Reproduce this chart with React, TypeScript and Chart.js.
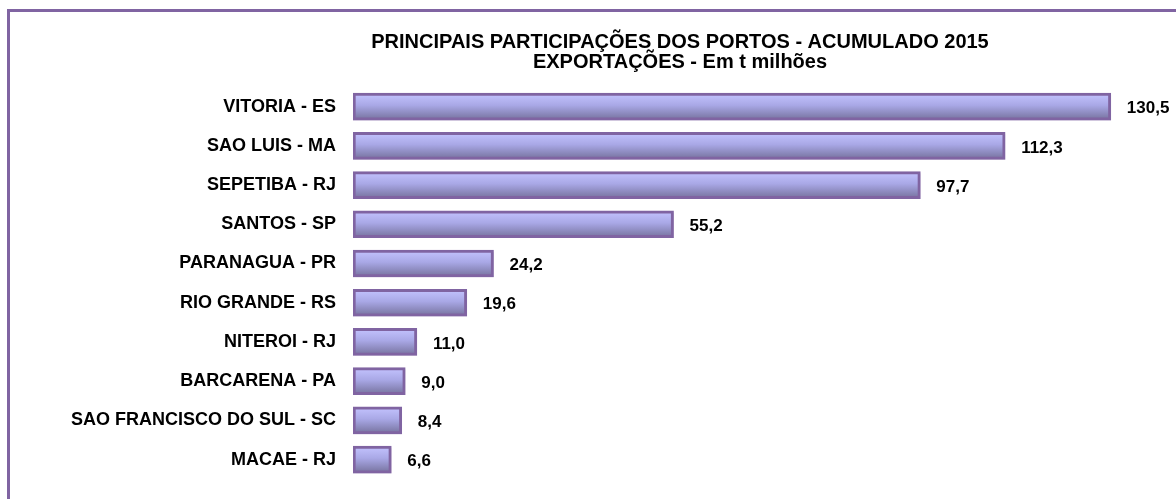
import React, { useEffect, useRef } from "react";
import { Chart, registerables } from "chart.js";

Chart.register(...registerables);

const categories = [
  "VITORIA - ES",
  "SAO LUIS - MA",
  "SEPETIBA - RJ",
  "SANTOS - SP",
  "PARANAGUA - PR",
  "RIO GRANDE - RS",
  "NITEROI - RJ",
  "BARCARENA - PA",
  "SAO FRANCISCO DO SUL - SC",
  "MACAE - RJ",
];
const values = [130.5, 112.3, 97.7, 55.2, 24.2, 19.6, 11.0, 9.0, 8.4, 6.6];
const titleLines = [
  "PRINCIPAIS PARTICIPAÇÕES DOS PORTOS - ACUMULADO 2015",
  "EXPORTAÇÕES - Em t milhões",
];

const FONT = "'Liberation Sans', Arial, sans-serif";
const PURPLE = "#8064A2";
const BAR_H = 27;

const framePlugin = {
  id: "frame",
  beforeDraw(chart: any) {
    const ctx = chart.ctx;
    ctx.save();
    ctx.fillStyle = PURPLE;
    ctx.fillRect(7, 9, chart.width - 7, 3);
    ctx.fillRect(7, 9, 3, chart.height - 9);
    ctx.restore();
  },
};

const titlePlugin = {
  id: "twoLineTitle",
  afterDraw(chart: any) {
    const ctx = chart.ctx;
    ctx.save();
    ctx.fillStyle = "#000";
    ctx.font = `bold 20px ${FONT}`;
    ctx.textAlign = "center";
    ctx.textBaseline = "middle";
    ctx.fillText(titleLines[0], 680, 42);
    ctx.fillText(titleLines[1], 680, 62);
    ctx.restore();
  },
};

const shadowPlugin = {
  id: "barShadow",
  beforeDatasetsDraw(chart: any) {
    const ctx = chart.ctx;
    ctx.save();
    ctx.shadowColor = "rgba(128,100,162,0.3)";
    ctx.shadowOffsetX = 0;
    ctx.shadowOffsetY = 2;
    ctx.shadowBlur = 1;
  },
  afterDatasetsDraw(chart: any) {
    chart.ctx.restore();
  },
};

const valueLabelPlugin = {
  id: "valueLabels",
  afterDatasetsDraw(chart: any) {
    const ctx = chart.ctx;
    const meta = chart.getDatasetMeta(0);
    ctx.save();
    ctx.fillStyle = "#000";
    ctx.font = `bold 17px ${FONT}`;
    ctx.textAlign = "left";
    ctx.textBaseline = "middle";
    meta.data.forEach((el: any, i: number) => {
      const txt = values[i].toFixed(1).replace(".", ",");
      ctx.fillText(txt, el.x + 16, el.y + 2);
    });
    ctx.restore();
  },
};

export default function App() {
  const ref = useRef<HTMLCanvasElement | null>(null);

  useEffect(() => {
    if (!ref.current) return;
    const chart = new Chart(ref.current, {
      type: "bar",
      data: {
        labels: categories,
        datasets: [
          {
            data: values,
            barThickness: BAR_H,
            borderWidth: 3,
            borderColor: PURPLE,
            borderSkipped: false,
            backgroundColor: (c: any) => {
              const chart = c.chart;
              const ys = chart.scales && chart.scales.y;
              if (!ys || c.dataIndex == null) return "#a6a5e0";
              const cy = ys.getPixelForValue(c.dataIndex);
              if (!Number.isFinite(cy)) return "#a6a5e0";
              const g = chart.ctx.createLinearGradient(0, cy - BAR_H / 2, 0, cy + BAR_H / 2);
              g.addColorStop(0, "#c4c4ff");
              g.addColorStop(0.45, "#a9a8e6");
              g.addColorStop(1, "#75719c");
              return g;
            },
          },
        ],
      },
      options: {
        indexAxis: "y",
        responsive: false,
        animation: false,
        devicePixelRatio: 1,
        layout: { padding: { left: 0, right: 10, top: 87, bottom: 19 } },
        plugins: {
          legend: { display: false },
          title: { display: false },
          tooltip: { enabled: false },
        },
        scales: {
          x: { display: false, min: 0, max: 140 },
          y: {
            grid: { display: false },
            border: { display: false },
            ticks: {
              color: "#000",
              padding: 9,
              font: { family: FONT, size: 18, weight: "bold" },
            },
            afterFit: (scale: any) => {
              scale.width = 353;
            },
          },
        },
      },
      plugins: [framePlugin, shadowPlugin, valueLabelPlugin, titlePlugin],
    } as any);
    return () => chart.destroy();
  }, []);

  return (
    <canvas
      ref={ref}
      width={1176}
      height={499}
      style={{ position: "absolute", left: 0, top: 0, width: 1176, height: 499 }}
    />
  );
}
